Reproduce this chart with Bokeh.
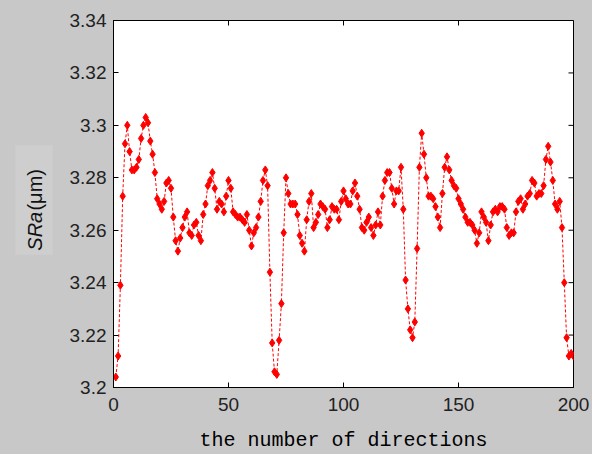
import math
from bokeh.plotting import figure
from bokeh.layouts import row
from bokeh.models import LinearAxis, FixedTicker, ColumnDataSource, Range1d
from bokeh.core.properties import value
from bokeh.embed import file_html
from bokeh.resources import INLINE

# ---- data ----
directions = list(range(1, 201))
sra = [
    3.204, 3.212, 3.239, 3.273, 3.293, 3.300, 3.290, 3.283, 3.283, 3.284,
    3.287, 3.295, 3.300, 3.303, 3.301, 3.294, 3.289, 3.282, 3.272, 3.270,
    3.268, 3.271, 3.278, 3.279, 3.276, 3.265, 3.256, 3.252, 3.257, 3.261,
    3.265, 3.267, 3.259, 3.258, 3.262, 3.263, 3.258, 3.256, 3.266, 3.270,
    3.277, 3.279, 3.282, 3.276, 3.268, 3.271, 3.270, 3.267, 3.273, 3.279,
    3.276, 3.267, 3.266, 3.265, 3.265, 3.264, 3.263, 3.266, 3.260, 3.254,
    3.259, 3.261, 3.265, 3.271, 3.279, 3.283, 3.277, 3.244, 3.217, 3.206,
    3.205, 3.218, 3.232, 3.259, 3.280, 3.274, 3.270, 3.270, 3.270, 3.266,
    3.258, 3.255, 3.252, 3.264, 3.271, 3.274, 3.261, 3.263, 3.266, 3.270,
    3.269, 3.268, 3.261, 3.264, 3.269, 3.268, 3.268, 3.264, 3.271, 3.275,
    3.272, 3.270, 3.270, 3.275, 3.278, 3.273, 3.268, 3.261, 3.260, 3.263,
    3.265, 3.261, 3.258, 3.262, 3.267, 3.262, 3.273, 3.279, 3.282, 3.282,
    3.276, 3.270, 3.275, 3.275, 3.284, 3.268, 3.241, 3.230, 3.222, 3.219,
    3.225, 3.253, 3.284, 3.297, 3.289, 3.280, 3.273, 3.273, 3.272, 3.269,
    3.265, 3.261, 3.274, 3.284, 3.288, 3.283, 3.279, 3.277, 3.276, 3.272,
    3.270, 3.268, 3.265, 3.263, 3.263, 3.262, 3.260, 3.255, 3.259, 3.267,
    3.265, 3.263, 3.256, 3.262, 3.267, 3.268, 3.267, 3.269, 3.269, 3.268,
    3.261, 3.258, 3.259, 3.259, 3.267, 3.271, 3.272, 3.268, 3.270, 3.273,
    3.274, 3.279, 3.278, 3.273, 3.274, 3.274, 3.277, 3.287, 3.292, 3.286,
    3.279, 3.270, 3.268, 3.271, 3.261, 3.240, 3.219, 3.212, 3.213, 3.212,
]
x_ticks = [0, 50, 100, 150, 200]
y_ticks = [3.2, 3.22, 3.24, 3.26, 3.28, 3.3, 3.32, 3.34]
y_tick_labels = ["3.2", "3.22", "3.24", "3.26", "3.28", "3.3", "3.32", "3.34"]
x_label = "the number of directions"
y_label_italic = "SRa"
y_label_unit = "(μm)"

BG = "#c8c8c8"
TICK_FONT = "Liberation Sans"
H = 454
TOP, BOTTOM = 20, 66

y_range = Range1d(3.2, 3.34)

# ---- narrow panel holding the rotated y-axis label (same vertical frame) ----
lab = figure(width=60, height=H, output_backend="svg", toolbar_location=None,
             x_range=Range1d(0, 60), y_range=y_range,
             x_axis_location=None, y_axis_location=None)
lab.min_border_left = 0
lab.min_border_right = 0
lab.min_border_top = TOP
lab.min_border_bottom = BOTTOM
lab.background_fill_color = BG
lab.border_fill_color = BG
lab.outline_line_color = None
lab.xgrid.visible = False
lab.ygrid.visible = False
lab.quad(left=[15], right=[52], bottom=[3.2506], top=[3.2924],
         fill_color="#cecece", line_color=None)
lab.text(x=[34], y=[3.2522], text=[y_label_italic], angle=math.pi / 2,
         text_align="left", text_baseline="middle",
         text_font=value("Liberation Sans"), text_font_style="italic",
         text_font_size="20px", text_color="#111111")
lab.text(x=[34], y=[3.2675], text=[y_label_unit], angle=math.pi / 2,
         text_align="left", text_baseline="middle",
         text_font=value("Liberation Sans"),
         text_font_size="20px", text_color="#111111")

# ---- main plot ----
p = figure(width=532, height=H, output_backend="svg", toolbar_location=None,
           x_range=Range1d(0, 200), y_range=y_range,
           x_axis_location=None, y_axis_location=None)
p.background_fill_color = "white"
p.border_fill_color = BG
p.min_border_left = 53
p.min_border_right = 19
p.min_border_top = TOP
p.min_border_bottom = BOTTOM
p.outline_line_color = "black"
p.outline_line_width = 1
p.xgrid.visible = False
p.ygrid.visible = False

def style(ax):
    ax.major_tick_in = 5
    ax.major_tick_out = 0
    ax.minor_tick_in = 0
    ax.minor_tick_out = 0
    ax.axis_line_color = "black"
    ax.major_tick_line_color = "black"
    ax.major_label_text_font = TICK_FONT
    ax.major_label_text_font_size = "19px"
    ax.major_label_text_color = "#222222"

bottom = LinearAxis(ticker=FixedTicker(ticks=x_ticks))
style(bottom)
bottom.major_label_standoff = 10
bottom.axis_label = x_label
bottom.axis_label_text_font = "Liberation Mono"
bottom.axis_label_text_font_style = "normal"
bottom.axis_label_text_font_size = "20px"
bottom.axis_label_text_color = "black"
bottom.axis_label_standoff = 15
p.add_layout(bottom, "below")

left = LinearAxis(ticker=FixedTicker(ticks=y_ticks))
style(left)
left.major_label_overrides = {v: s for v, s in zip(y_ticks, y_tick_labels)}
left.major_label_standoff = 7
p.add_layout(left, "left")

# inward ticks on the right and top edges of the box
p.scatter(x=[200] * len(y_ticks), y=y_ticks, marker="dash", size=10,
          line_color="black", line_width=1)
p.scatter(x=x_ticks, y=[3.34] * len(x_ticks), marker="dash", size=10,
          angle=math.pi / 2, line_color="black", line_width=1)

src = ColumnDataSource(dict(x=directions, y=sra))
p.line("x", "y", source=src, line_color="red", line_dash="3 2", line_width=1)
p.scatter("x", "y", source=src, marker="diamond", size=8,
          fill_color="red", line_color="red")

layout = row(lab, p, spacing=0, styles={"background-color": BG})
open("out.html", "w").write(file_html(layout, INLINE))
